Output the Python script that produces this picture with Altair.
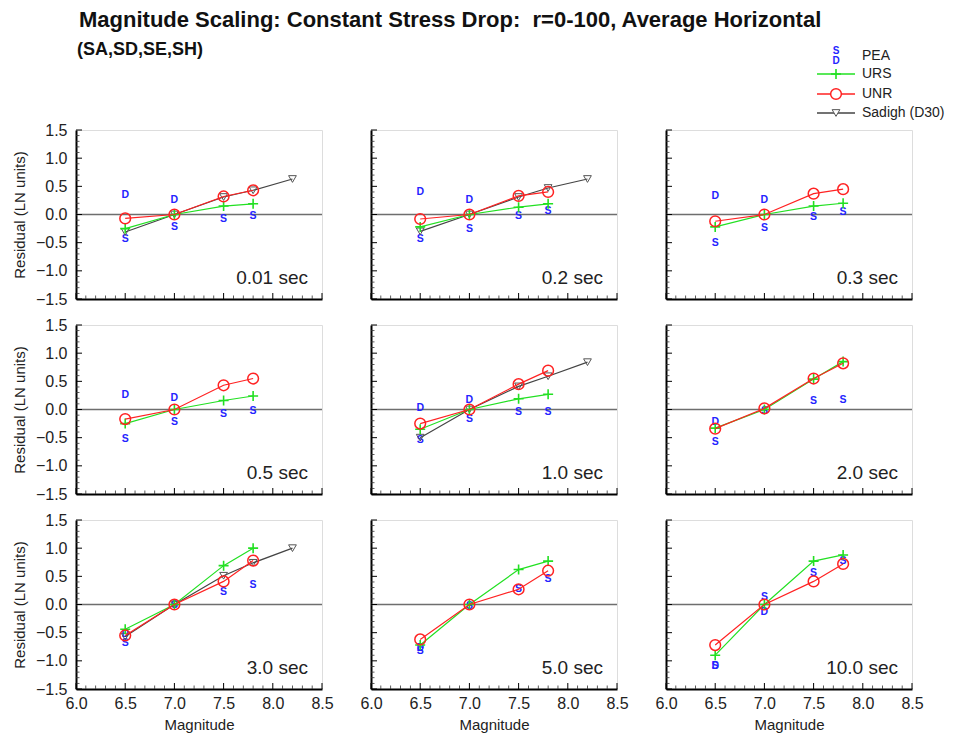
import altair as alt
import pandas as pd
import numpy as np

FONT = "Liberation Sans"

TITLE = "Magnitude Scaling: Constant Stress Drop:\u00a0\u00a0r=0-100, Average Horizontal"
SUBTITLE = "(SA,SD,SE,SH)"
PERIODS = ["0.01 sec", "0.2 sec", "0.3 sec", "0.5 sec", "1.0 sec",
           "2.0 sec", "3.0 sec", "5.0 sec", "10.0 sec"]
MAGS = [6.5, 7.0, 7.5, 7.8]
SADIGH_MAGS = [6.5, 7.0, 7.5, 7.8, 8.2]

URS = [
    [-0.25, 0.0, 0.15, 0.19],
    [-0.22, 0.0, 0.13, 0.19],
    [-0.22, 0.0, 0.15, 0.20],
    [-0.25, 0.0, 0.16, 0.24],
    [-0.35, 0.0, 0.19, 0.27],
    [-0.33, 0.0, 0.54, 0.85],
    [-0.44, 0.0, 0.69, 1.00],
    [-0.72, 0.0, 0.62, 0.77],
    [-0.90, 0.0, 0.77, 0.88],
]
UNR = [
    [-0.07, 0.0, 0.32, 0.43],
    [-0.08, 0.0, 0.33, 0.40],
    [-0.12, 0.0, 0.37, 0.45],
    [-0.17, 0.0, 0.43, 0.55],
    [-0.25, 0.0, 0.45, 0.69],
    [-0.34, 0.02, 0.55, 0.82],
    [-0.55, 0.0, 0.41, 0.78],
    [-0.62, 0.0, 0.27, 0.60],
    [-0.72, 0.0, 0.41, 0.72],
]
SADIGH = [
    [-0.31, 0.0, 0.31, 0.43, 0.63],
    [-0.30, 0.0, 0.31, 0.47, 0.63],
    None,
    None,
    [-0.50, 0.0, 0.41, 0.59, 0.84],
    None,
    [-0.57, 0.0, 0.51, 0.74, 1.00],
    None,
    None,
]
PEA_S = [
    [-0.43, -0.22, -0.08, -0.02],
    [-0.43, -0.25, -0.03, 0.07],
    [-0.51, -0.24, -0.04, 0.04],
    [-0.52, -0.22, -0.08, -0.02],
    [-0.54, -0.16, -0.04, -0.04],
    [-0.58, -0.03, 0.15, 0.16],
    [-0.68, 0.00, 0.22, 0.34],
    [-0.83, -0.03, 0.28, 0.45],
    [-1.10, 0.14, 0.56, 0.78],
]
PEA_D = [
    [0.35, 0.25, None, None],
    [0.40, 0.26, None, None],
    [0.32, 0.25, None, None],
    [0.25, 0.20, None, None],
    [0.03, 0.16, None, None],
    [-0.23, None, None, None],
    [-0.52, None, None, None],
    [-0.78, None, None, None],
    [-1.09, -0.13, None, None],
]

X_MAJOR = [6.0, 6.5, 7.0, 7.5, 8.0, 8.5]
Y_MAJOR = [-1.5, -1.0, -0.5, 0.0, 0.5, 1.0, 1.5]
X_MINOR = [round(v, 1) for v in np.arange(6.1, 8.45, 0.1) if round(v * 10) % 5 != 0]
Y_MINOR = [round(v, 1) for v in np.arange(-1.4, 1.45, 0.1) if round(abs(v) * 10) % 5 != 0]

LEGEND_NAMES = ["PEA", "URS", "UNR", "Sadigh (D30)"]

BLUE = "#2424ff"
GREEN = "#22e022"
RED = "#ff2222"
GRAY = "#444444"
TRI = "#555555"
PLUS = "M-1,0H1M0,-1V1"

W, H = 246, 169
XS = alt.Scale(domain=[6.0, 8.5], nice=False, zero=False)
YS = alt.Scale(domain=[-1.5, 1.5], nice=False, zero=False)


def title_layers():
    out = []
    out.append(alt.Chart(pd.DataFrame({"t": [TITLE]})).mark_text(
        align="left", baseline="middle", fontSize=22, fontWeight="bold", font=FONT, color="#111"
    ).encode(x=alt.value(3), y=alt.value(-110), text="t:N"))
    out.append(alt.Chart(pd.DataFrame({"t": [SUBTITLE]})).mark_text(
        align="left", baseline="middle", fontSize=18, fontWeight="bold", font=FONT, color="#111"
    ).encode(x=alt.value(1), y=alt.value(-80), text="t:N"))
    return out


def legend_layers():
    out = []
    LX0, LX1, LSYM, LTXT = 151, 189, 170, 196
    LY = [-74, -56, -36, -17]
    for name, ly in zip(LEGEND_NAMES, LY):
        out.append(alt.Chart(pd.DataFrame({"t": [name]})).mark_text(
            align="left", baseline="middle", fontSize=14, font=FONT, color="#222"
        ).encode(x=alt.value(LTXT), y=alt.value(ly), text="t:N"))
    out.append(alt.Chart(pd.DataFrame({"t": ["S"]})).mark_text(
        align="center", baseline="middle", fontSize=10, fontWeight="bold", font=FONT, color=BLUE
    ).encode(x=alt.value(LSYM), y=alt.value(LY[0] - 5), text="t:N"))
    out.append(alt.Chart(pd.DataFrame({"t": ["D"]})).mark_text(
        align="center", baseline="middle", fontSize=10, fontWeight="bold", font=FONT, color=BLUE
    ).encode(x=alt.value(LSYM), y=alt.value(LY[0] + 5), text="t:N"))
    styles = [
        (GREEN, GREEN, PLUS, 100, 1.6, LY[1]),
        (RED, RED, "circle", 115, 1.5, LY[2]),
        (GRAY, TRI, "triangle-down", 60, 1, LY[3]),
    ]
    for lcol, pcol, shp, sz, sw, ly in styles:
        one = pd.DataFrame({"k": [0]})
        out.append(alt.Chart(one).mark_rule(color=lcol, strokeWidth=1.5).encode(
            x=alt.value(LX0), x2=alt.value(LX1), y=alt.value(ly)))
        out.append(alt.Chart(one).mark_point(shape=shp, size=sz, filled=False, color=pcol,
                                             strokeWidth=sw, opacity=1, fill="white").encode(
            x=alt.value(LSYM), y=alt.value(ly)))
    return out


def panel(i):
    row, col = divmod(i, 3)
    xaxis_kw = dict(values=X_MAJOR, format=".1f", ticks=False, domainColor="black",
                    domainWidth=2, labelFontSize=16, labelPadding=6, labelColor="#222",
                    labelFont=FONT, grid=False, labels=(row == 2), labelFlush=False)
    if row == 2:
        xaxis_kw.update(title="Magnitude", titleFontSize=15, titleFontWeight="normal",
                        titlePadding=6, titleFont=FONT, titleColor="#222")
    else:
        xaxis_kw.update(title="")
    yaxis_kw = dict(values=Y_MAJOR, format=".1f", ticks=False, domainColor="black",
                    domainWidth=2, labelFontSize=16, labelPadding=9, labelColor="#222",
                    labelFont=FONT, grid=False, labels=(col == 0), labelFlush=False)
    if col == 0:
        yaxis_kw.update(title="Residual (LN units)", titleFontSize=15, titleFontWeight="normal",
                        titlePadding=8, titleFont=FONT, titleColor="#222")
    else:
        yaxis_kw.update(title="")
    xaxis = alt.Axis(**xaxis_kw)
    yaxis = alt.Axis(**yaxis_kw)

    def X(f):
        return alt.X(f, type="quantitative", scale=XS, axis=xaxis)

    def Y(f):
        return alt.Y(f, type="quantitative", scale=YS, axis=yaxis)

    layers = []
    layers.append(alt.Chart(pd.DataFrame({"v": [0.0]})).mark_rule(
        color="#6e6e6e", strokeWidth=1.6).encode(y=Y("v")))

    layers.append(alt.Chart(pd.DataFrame({"t": Y_MAJOR})).mark_tick(
        orient="horizontal", size=6, thickness=1, xOffset=3, color="black", opacity=1
    ).encode(x=alt.value(0), y=Y("t")))
    layers.append(alt.Chart(pd.DataFrame({"t": Y_MINOR})).mark_tick(
        orient="horizontal", size=3.5, thickness=0.8, xOffset=1.75, color="#333", opacity=1
    ).encode(x=alt.value(0), y=Y("t")))
    layers.append(alt.Chart(pd.DataFrame({"t": X_MAJOR})).mark_tick(
        orient="vertical", size=6, thickness=1, yOffset=-3, color="black", opacity=1
    ).encode(x=X("t"), y=alt.value(H)))
    layers.append(alt.Chart(pd.DataFrame({"t": X_MINOR})).mark_tick(
        orient="vertical", size=3.5, thickness=0.8, yOffset=-1.75, color="#333", opacity=1
    ).encode(x=X("t"), y=alt.value(H)))

    pea_rows = []
    for m, s, d in zip(MAGS, PEA_S[i], PEA_D[i]):
        if s is not None:
            pea_rows.append({"mag": m, "v": s, "letter": "S"})
        if d is not None:
            pea_rows.append({"mag": m, "v": d, "letter": "D"})
    layers.append(alt.Chart(pd.DataFrame(pea_rows)).mark_text(
        color=BLUE, fontSize=10.5, fontWeight="bold", font=FONT, baseline="middle"
    ).encode(x=X("mag"), y=Y("v"), text="letter:N"))

    if SADIGH[i] is not None:
        sd = pd.DataFrame({"mag": SADIGH_MAGS, "v": SADIGH[i]})
        base = alt.Chart(sd).encode(x=X("mag"), y=Y("v"))
        layers.append(base.mark_line(color=GRAY, strokeWidth=1.2))
        layers.append(base.mark_point(shape="triangle-down", size=60, filled=False,
                                      color=TRI, strokeWidth=1, opacity=1))

    ub = alt.Chart(pd.DataFrame({"mag": MAGS, "v": URS[i]})).encode(x=X("mag"), y=Y("v"))
    layers.append(ub.mark_line(color=GREEN, strokeWidth=1.2))
    layers.append(ub.mark_point(shape=PLUS, size=100, filled=False, color=GREEN,
                                strokeWidth=1.6, opacity=1))

    rb = alt.Chart(pd.DataFrame({"mag": MAGS, "v": UNR[i]})).encode(x=X("mag"), y=Y("v"))
    layers.append(rb.mark_line(color=RED, strokeWidth=1.2))
    layers.append(rb.mark_point(shape="circle", size=115, filled=False, color=RED,
                                strokeWidth=1.5, opacity=1))

    layers.append(alt.Chart(pd.DataFrame({"label": [PERIODS[i]]})).mark_text(
        align="right", baseline="middle", fontSize=19, font=FONT, color="#222"
    ).encode(x=alt.value(W - 14), y=alt.value(H - 21), text="label:N"))

    if i == 0:
        layers += title_layers()
    if i == 2:
        layers += legend_layers()

    return alt.layer(*layers).properties(width=W, height=H)


chart = alt.concat(*[panel(i) for i in range(9)], columns=3,
                   spacing={"row": 26, "column": 49}, bounds="flush").properties(
    padding={"left": 3, "top": 0, "right": 0, "bottom": 0}
).configure_view(strokeWidth=0, stroke="transparent").configure(font=FONT, background="white")

chart.save("out.html", embed_options={"renderer": "svg", "actions": False})
